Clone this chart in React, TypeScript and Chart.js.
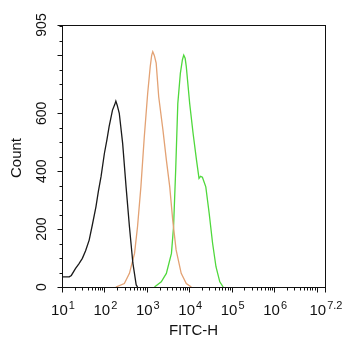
import React, { useEffect, useRef } from 'react';
import { Chart, registerables } from 'chart.js';

Chart.register(...registerables);

// FITC-H values (linear units) and event counts
const blackX = [10, 14.8, 16.6, 20.9, 25, 30.2, 36, 43.7, 52, 63.1, 72, 83.2, 100, 115, 129, 155, 175, 186, 200, 224, 269, 324, 389, 468, 562, 603];
const blackY = [35, 35, 40, 64, 80, 99, 125, 162, 215, 277, 330, 381, 462, 510, 554, 611, 630, 642, 628, 600, 496, 346, 208, 83, 7, 0];

const orangeX = [186, 295, 389, 513, 603, 724, 871, 1047, 1202, 1300, 1380, 1500, 1660, 1905, 2399, 2884, 3467, 4074, 4898, 6457, 8511, 11220];
const orangeY = [0, 12, 47, 116, 208, 346, 519, 669, 761, 800, 813, 800, 773, 657, 542, 439, 346, 231, 128, 47, 12, 0];

const greenX = [1514, 2188, 2884, 3802, 4266, 4786, 5370, 6166, 6900, 7413, 8000, 8511, 10233, 12303, 14791, 16982, 18500, 20417, 24547, 29512, 35481, 42658, 52481, 63096];
const greenY = [0, 18, 47, 116, 208, 404, 634, 738, 785, 801, 790, 761, 634, 531, 439, 375, 382, 379, 346, 254, 151, 70, 18, 0];

const yMax = 905;
const yLabelValues = [0, 200, 400, 600, 905];
const yMajorValues = [0, 200, 400, 600, 800, 905];
const xMinExp = 1;
const xMaxExp = 7.2;
const xLabelExps = ['1', '2', '3', '4', '5', '6', '7.2'];

const xTitle = 'FITC-H';
const yTitle = 'Count';

const toPoints = (xs: number[], ys: number[]) => xs.map((x, i) => ({ x, y: ys[i] }));

const axesPlugin = {
  id: 'facsAxes',
  afterDraw(chart: any) {
    const { ctx, chartArea: a, scales } = chart;
    const xs = scales.x;
    const ys = scales.y;
    ctx.save();
    ctx.strokeStyle = '#111';
    ctx.lineWidth = 1;
    // frame
    ctx.strokeRect(Math.round(a.left) + 0.5, Math.round(a.top) + 0.5, Math.round(a.right - a.left), Math.round(a.bottom - a.top));

    // y ticks
    const L = Math.round(a.left) + 0.5;
    ctx.beginPath();
    for (let v = 0; v <= 900; v += 50) {
      const y = Math.round(ys.getPixelForValue(v)) + 0.5;
      const len = yMajorValues.includes(v) ? 5 : 3;
      ctx.moveTo(L - len, y);
      ctx.lineTo(L, y);
    }
    {
      const y = Math.round(ys.getPixelForValue(yMax)) + 0.5;
      ctx.moveTo(L - 5, y);
      ctx.lineTo(L, y);
    }
    // x ticks
    const B = Math.round(a.bottom) + 0.5;
    for (let d = xMinExp; d <= Math.floor(xMaxExp); d++) {
      for (let k = 1; k <= 9; k++) {
        const val = k * Math.pow(10, d);
        if (Math.log10(val) > xMaxExp + 1e-9) break;
        const x = Math.round(xs.getPixelForValue(val)) + 0.5;
        const len = k === 1 ? 5 : 3;
        ctx.moveTo(x, B);
        ctx.lineTo(x, B + len);
      }
    }
    {
      const x = Math.round(xs.getPixelForValue(Math.pow(10, xMaxExp))) + 0.5;
      ctx.moveTo(x, B);
      ctx.lineTo(x, B + 5);
    }
    ctx.stroke();

    // y labels (rotated)
    ctx.fillStyle = '#111';
    ctx.font = '14px "Liberation Sans", Arial, sans-serif';
    ctx.textAlign = 'center';
    ctx.textBaseline = 'middle';
    yLabelValues.forEach((v) => {
      const y = ys.getPixelForValue(v);
      ctx.save();
      ctx.translate(42, y);
      ctx.rotate(-Math.PI / 2);
      ctx.fillText(String(v), 0, 0);
      ctx.restore();
    });

    // x labels with superscripts
    ctx.textBaseline = 'alphabetic';
    ctx.textAlign = 'left';
    xLabelExps.forEach((e) => {
      const px = xs.getPixelForValue(Math.pow(10, parseFloat(e)));
      ctx.font = '15px "Liberation Sans", Arial, sans-serif';
      const w1 = ctx.measureText('10').width;
      ctx.font = '11px "Liberation Sans", Arial, sans-serif';
      const w2 = ctx.measureText(e).width;
      const start = px - (w1 + w2 + 1) / 2 + 1;
      ctx.font = '15px "Liberation Sans", Arial, sans-serif';
      ctx.fillText('10', start, 315);
      ctx.font = '11px "Liberation Sans", Arial, sans-serif';
      ctx.fillText(e, start + w1 + 1, 309);
    });

    // titles
    ctx.font = '15px "Liberation Sans", Arial, sans-serif';
    ctx.textAlign = 'center';
    ctx.textBaseline = 'middle';
    ctx.fillText(xTitle, (a.left + a.right) / 2, 331);
    ctx.save();
    ctx.translate(17, (a.top + a.bottom) / 2 + 2);
    ctx.rotate(-Math.PI / 2);
    ctx.fillText(yTitle, 0, 0);
    ctx.restore();
    ctx.restore();
  },
};

export default function App() {
  const ref = useRef<HTMLCanvasElement | null>(null);
  useEffect(() => {
    if (!ref.current) return;
    const chart = new Chart(ref.current, {
      type: 'scatter',
      data: {
        datasets: [
          { data: toPoints(blackX, blackY), borderColor: '#1a1a1a', borderWidth: 1.3, showLine: true, pointRadius: 0, tension: 0 },
          { data: toPoints(orangeX, orangeY), borderColor: '#e3a274', borderWidth: 1.3, showLine: true, pointRadius: 0, tension: 0 },
          { data: toPoints(greenX, greenY), borderColor: '#4fd83c', borderWidth: 1.3, showLine: true, pointRadius: 0, tension: 0 },
        ],
      },
      options: {
        responsive: false,
        animation: false,
        events: [],
        layout: { padding: { left: 62, right: 17, top: 25, bottom: 63 } },
        plugins: { legend: { display: false }, tooltip: { enabled: false } },
        scales: {
          x: { type: 'logarithmic', min: Math.pow(10, xMinExp), max: Math.pow(10, xMaxExp), display: false },
          y: { type: 'linear', min: 0, max: yMax, display: false },
        },
      },
      plugins: [axesPlugin],
    });
    return () => chart.destroy();
  }, []);
  return (
    <div style={{ position: 'fixed', left: 0, top: 0, width: 342, height: 350, background: '#fff' }}>
      <canvas ref={ref} width={342} height={350} style={{ display: 'block', width: 342, height: 350 }} />
    </div>
  );
}
